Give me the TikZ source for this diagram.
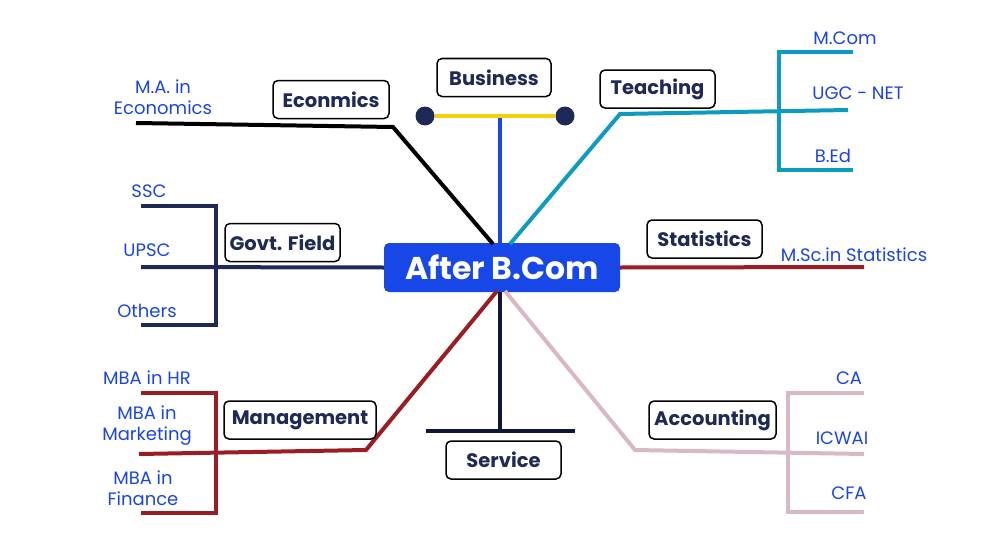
\documentclass[tikz,border=0pt]{standalone}
\usepackage{fontspec}
\setmainfont{Poppins}
\definecolor{cblue}{HTML}{1747E6}
\definecolor{tblue}{HTML}{1B45E2}
\definecolor{navy}{HTML}{1E2A55}
\definecolor{dnavy}{HTML}{0F1736}
\definecolor{yel}{HTML}{F7CF0A}
\definecolor{teal}{HTML}{0E9BC2}
\definecolor{dred}{HTML}{9B1C22}
\definecolor{pink}{HTML}{D8B7C7}
\begin{document}
\begin{tikzpicture}[x=1pt,y=-1pt,
  lbl/.style={draw=black,line width=1.5pt,rounded corners=5pt,fill=white,text=navy,
    font=\fontsize{19.5}{22}\selectfont\bfseries,minimum height=38pt,inner xsep=4pt,anchor=center},
  sub/.style={text=tblue,font=\fontsize{18}{21}\selectfont,align=center,inner sep=0pt},
  br/.style={line width=4pt},
]
\useasboundingbox (0,0) rectangle (1000,535);
% centre
\node[fill=cblue,rounded corners=5pt,text=white,font=\fontsize{31.5}{34}\selectfont\bfseries,
  minimum width=236pt,minimum height=49pt,inner sep=0pt] (c) at (502,267.5) {After B.Com};
\coordinate (ctop) at (500,243);
\coordinate (cbot) at (500,292);
% Economics
\coordinate (e1) at (393,127);
\coordinate (e2) at (136,123);
\draw[br,black] (493,244) -- (e1) -- (e2);
\node[lbl,minimum width=116pt] (econ) at (331,99.5) {Econmics};
\node[sub] (ma) at (163,97) {M.A. in\\Economics};
% Business
\coordinate (bt) at (500,116);
\draw[br,cblue] (ctop) -- (bt);
\node[circle,fill=navy,inner sep=0pt,minimum size=19pt] (d1) at (425,116) {};
\node[circle,fill=navy,inner sep=0pt,minimum size=19pt] (d2) at (565,116) {};
\draw[br,yel] (d1) -- (d2);
\node[lbl,minimum width=114pt] (bus) at (494,77.5) {Business};
% Teaching
\coordinate (t1) at (620,114);
\coordinate (t2) at (848,110);
\draw[br,teal] (510,244) -- (t1) -- (t2);
\draw[br,teal] (853,52) -- (779,52) -- (779,170) -- (853,170);
\node[lbl,minimum width=115pt] (teach) at (657.5,89) {Teaching};
\node[sub] (mcom) at (845,38) {M.Com};
\node[sub] (ugc) at (858,93) {UGC - NET};
\node[sub] (bed) at (833,156) {B.Ed};
% Govt
\coordinate (g1) at (141,267);
\draw[br,navy] (c.west) -- (g1);
\draw[br,navy] (141,206) -- (216,206) -- (216,325) -- (141,325);
\node[lbl,minimum width=115pt] (govt) at (282.5,242.5) {Govt. Field};
\node[sub] (ssc) at (149,191) {SSC};
\node[sub] (upsc) at (147,250) {UPSC};
\node[sub] (oth) at (147,311) {Others};
% Statistics
\coordinate (s1) at (864,267);
\draw[br,dred] (c.east) -- (s1);
\node[lbl,minimum width=115pt] (stat) at (704.5,239) {Statistics};
\node[sub] (msc) at (854,255) {M.Sc.in Statistics};
% Management
\coordinate (m1) at (366,450);
\coordinate (m2) at (139,454);
\draw[br,dred] (497,291) -- (m1) -- (m2);
\draw[br,dred] (141,393) -- (216,393) -- (216,513) -- (141,513);
\node[lbl,minimum width=152pt] (mgmt) at (300,420) {Management};
\node[sub] (hr) at (147,378) {MBA in HR};
\node[sub] (mkt) at (147,426) {MBA in\\Marketing};
\node[sub] (fin) at (143,488) {MBA in\\Finance};
% Service
\coordinate (sv) at (500,431);
\draw[br,dnavy] (cbot) -- (sv);
\coordinate (sv1) at (426,431);
\coordinate (sv2) at (575,431);
\draw[br,dnavy] (sv1) -- (sv2);
\node[lbl,minimum width=115pt] (serv) at (503.5,460) {Service};
% Accounting
\coordinate (a1) at (635,450);
\coordinate (a2) at (864,454);
\draw[br,pink] (505,291) -- (a1) -- (a2);
\draw[br,pink] (864,393) -- (788,393) -- (788,512) -- (864,512);
\node[lbl,minimum width=127pt] (acc) at (712.5,420) {Accounting};
\node[sub] (ca) at (849,378) {CA};
\node[sub] (icw) at (842,438) {ICWAI};
\node[sub] (cfa) at (849,493) {CFA};
\end{tikzpicture}
\end{document}
